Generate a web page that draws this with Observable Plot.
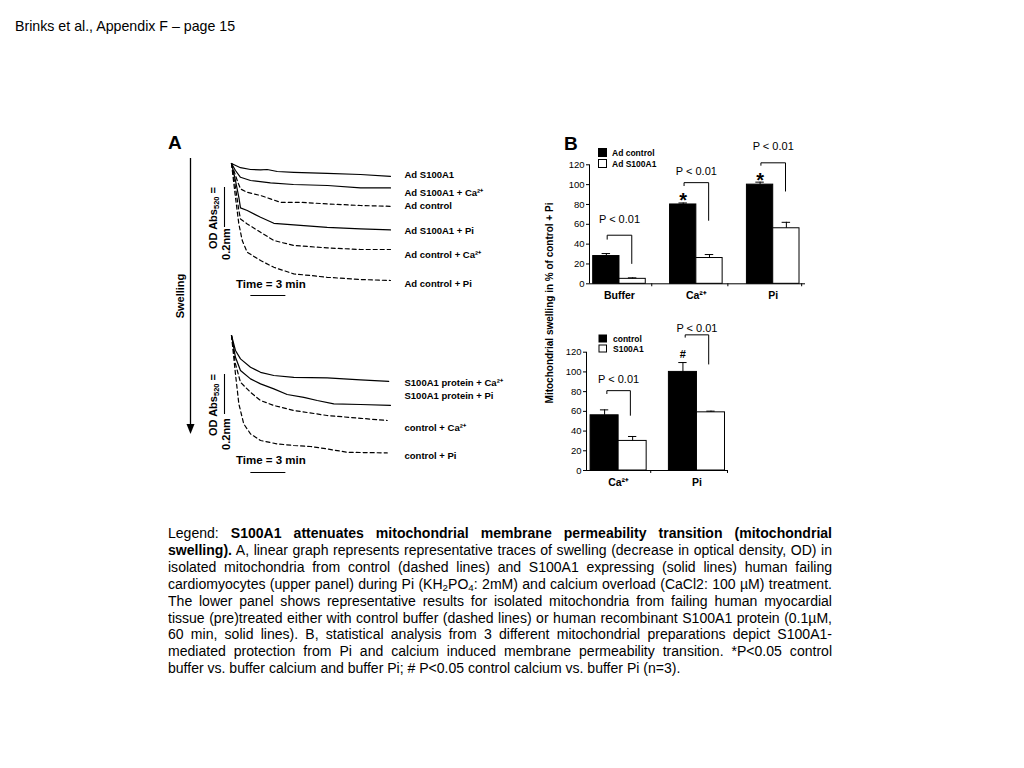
<!DOCTYPE html>
<html>
<head>
<meta charset="utf-8">
<script src="https://cdn.jsdelivr.net/npm/d3@7"></script>
<script src="https://cdn.jsdelivr.net/npm/@observablehq/plot@0.6"></script>
<style>
  html, body { margin: 0; padding: 0; background: #fff; }
  #page { position: relative; width: 1024px; height: 768px; overflow: hidden; font-family: "Liberation Sans", Arial, Helvetica, sans-serif; color: #000; }
  .box { position: absolute; }
  .box svg { overflow: visible; }
  #overlay { position: absolute; left: 0; top: 0; pointer-events: none; overflow: visible; }
  .cap { position: absolute; left: 168px; font-family: "Liberation Sans", Arial, sans-serif; font-size: 14px; line-height: 17px; text-align: justify; text-align-last: justify; white-space: nowrap; transform-origin: 0 0; }
  .cap.last { text-align-last: left; }
  .cap sub { font-size: 70%; line-height: 0; vertical-align: -0.25em; }
</style>
</head>
<body>
<div id="page"></div>
<script>
// ================= DATA =================
// Panel A, upper traces (time in min, change in OD520)
const upperLabels = ["Ad S100A1", "Ad S100A1 + Ca²⁺", "Ad control", "Ad S100A1 + Pi", "Ad control + Ca²⁺", "Ad control + Pi"];
const upperDashed = [false, false, true, false, true, true];
const tAdS100A1 = [0, 0.77, 1.63, 2.49, 3.06, 3.92, 5.34, 8.2, 11.06, 13.63];
const odAdS100A1 = [0, -0.021, -0.03, -0.032, -0.03, -0.04, -0.044, -0.049, -0.055, -0.064];
const tAdS100A1Ca = [0, 0.34, 0.77, 1.63, 3.34, 5.31, 8.23, 11.06, 13.63];
const odAdS100A1Ca = [0, -0.035, -0.069, -0.085, -0.097, -0.105, -0.11, -0.122, -0.122];
const tAdControl = [0, 0.49, 0.77, 1.35, 2.49, 3.34, 4.2, 5.91, 8.2, 11.06, 13.63];
const odAdControl = [0, -0.085, -0.127, -0.144, -0.16, -0.177, -0.194, -0.194, -0.202, -0.21, -0.214];
const tAdS100A1Pi = [0, 0.34, 0.63, 0.77, 1.35, 2.49, 3.63, 5.34, 8.2, 11.06, 13.63];
const odAdS100A1Pi = [0, -0.085, -0.169, -0.222, -0.235, -0.269, -0.299, -0.307, -0.319, -0.327, -0.332];
const tAdControlCa = [0, 0.34, 0.63, 0.77, 1.35, 2.49, 3.63, 5.34, 8.2, 11.06, 13.63];
const odAdControlCa = [0, -0.119, -0.235, -0.277, -0.302, -0.344, -0.385, -0.41, -0.422, -0.43, -0.43];
const tAdControlPi = [0, 0.34, 0.63, 0.92, 1.35, 2.49, 3.63, 5.34, 6.77, 8.2, 11.06, 13.63];
const odAdControlPi = [0, -0.169, -0.302, -0.385, -0.444, -0.485, -0.519, -0.552, -0.56, -0.569, -0.58, -0.585];

// Panel A, lower traces
const lowerLabels = ["S100A1 protein + Ca²⁺", "S100A1 protein + Pi", "control + Ca²⁺", "control + Pi"];
const lowerDashed = [false, false, true, true];
const tProtCa = [0, 0.34, 0.77, 1.63, 2.49, 3.63, 5.34, 8.2, 11.06, 13.48];
const odProtCa = [0, -0.075, -0.117, -0.159, -0.184, -0.2, -0.209, -0.212, -0.222, -0.229];
const tProtPi = [0, 0.34, 0.77, 1.63, 2.49, 3.63, 4.77, 6.2, 7.35, 8.77, 11.06, 13.63];
const odProtPi = [0, -0.109, -0.175, -0.217, -0.242, -0.267, -0.295, -0.309, -0.325, -0.342, -0.345, -0.349];
const tCtrlCa = [0, 0.34, 0.77, 1.63, 2.49, 3.63, 5.34, 8.2, 11.06, 13.35];
const odCtrlCa = [0, -0.142, -0.234, -0.284, -0.325, -0.35, -0.375, -0.4, -0.414, -0.425];
const tCtrlPi = [0, 0.34, 0.63, 1.05, 1.63, 2.49, 3.92, 5.34, 6.77, 8.2, 9.92, 13.35];
const odCtrlPi = [0, -0.192, -0.342, -0.442, -0.492, -0.525, -0.542, -0.55, -0.555, -0.567, -0.584, -0.587];

const timeBarMinutes = 3;     // "Time = 3 min"
const odBarLength = 0.2;      // "OD Abs520 = 0.2nm"

// Panel B, upper (adenovirus)
const groupsB1 = ["Buffer", "Ca²⁺", "Pi"];
const adControlB1 = [28, 80, 100];
const adControlErrB1 = [2.5, 1.5, 2.5];
const adS100A1B1 = [5, 26, 56];
const adS100A1ErrB1 = [1, 3.5, 6];
const bracketLowB1 = [45, 99, 119.5];
const bracketTopB1 = [49, 102, 122];
const bracketEndB1 = [20.5, 64, 93.5];
const pLabelYB1 = [64.8, 113.5, 138.4];
const starGroupsB1 = [1, 2];
const starYB1 = [84, 104];

// Panel B, lower (recombinant protein)
const groupsB2 = ["Ca²⁺", "Pi"];
const controlB2 = [56, 100];
const controlErrB2 = [5.5, 9.5];
const s100a1B2 = [30, 59];
const s100a1ErrB2 = [4.5, 1.2];
const bracketLowB2 = [78, 135.2];
const bracketTopB2 = [81, 137.6];
const bracketEndB2 = [56, 108];
const pLabelYB2 = [92, 143.7];
const hashGroupsB2 = [1];
const hashYB2 = [118];

const yTicksB = [0, 20, 40, 60, 80, 100, 120];
const pText = "P < 0.01";

const captionLines = [
  'Legend: <b>S100A1 attenuates mitochondrial membrane permeability transition (mitochondrial</b>',
  '<b>swelling).</b> A, linear graph represents representative traces of swelling (decrease in optical density, OD) in',
  'isolated mitochondria from control (dashed lines) and S100A1 expressing (solid lines) human failing',
  'cardiomyocytes (upper panel) during Pi (KH<sub>2</sub>PO<sub>4</sub>: 2mM) and calcium overload (CaCl2: 100 µM) treatment.',
  'The lower panel shows representative results for isolated mitochondria from failing human myocardial',
  'tissue (pre)treated either with control buffer (dashed lines) or human recombinant S100A1 protein (0.1µM,',
  '60 min, solid lines). B, statistical analysis from 3 different mitochondrial preparations depict S100A1-',
  'mediated protection from Pi and calcium induced membrane permeability transition. *P&lt;0.05 control',
  'buffer vs. buffer calcium and buffer Pi; # P&lt;0.05 control calcium vs. buffer Pi (n=3).'
];

// ================= BUILD =================
const FONT = '"Liberation Sans", Arial, Helvetica, sans-serif';
const page = document.getElementById("page");
function place(node, left, top) {
  const d = document.createElement("div");
  d.className = "box";
  d.style.left = left + "px";
  d.style.top = top + "px";
  d.appendChild(node);
  page.appendChild(d);
}
function traceRows(label, dashed, t, od) {
  return t.map((v, i) => ({series: label, dashed, t: v, od: od[i]}));
}

// ---- Panel A traces ----
function tracePlot(labels, dashedFlags, tArrays, odArrays, labelDy, opts) {
  const rows = labels.flatMap((l, k) => traceRows(l, dashedFlags[k], tArrays[k], odArrays[k]));
  const ends = labels.map((l, k) => ({series: l, od: odArrays[k][odArrays[k].length - 1]}));
  const tEnd = d3.max(tArrays.flat());
  const labelMarks = ends.map((e, k) => Plot.text([e], {
    x: tEnd, y: "od", text: "series", dx: 14, dy: labelDy[k],
    textAnchor: "start", fontWeight: "bold", fontSize: 9.5, fill: "#000"
  }));
  return Plot.plot({
    width: 380, height: 160,
    marginLeft: 71, marginRight: 150, marginTop: opts.marginTop, marginBottom: opts.marginBottom,
    x: {domain: [0, 13.63], axis: null},
    y: {domain: [-0.7, 0], axis: null},
    style: {fontFamily: FONT, color: "#000", background: "transparent", overflow: "visible"},
    marks: [
      Plot.line(rows.filter(d => !d.dashed), {x: "t", y: "od", z: "series", stroke: "#000", strokeWidth: 1.2}),
      Plot.line(rows.filter(d => d.dashed), {x: "t", y: "od", z: "series", stroke: "#000", strokeWidth: 1.2, strokeDasharray: "4,3"}),
      ...labelMarks,
      Plot.ruleY([opts.timeBarOD], {x1: opts.timeBarStart, x2: opts.timeBarStart + timeBarMinutes, stroke: "#000", strokeWidth: 1.1}),
      Plot.ruleX([opts.odBarT], {y1: opts.odBarTop, y2: opts.odBarTop - odBarLength, stroke: "#000", strokeWidth: 1.1})
    ]
  });
}

place(tracePlot(upperLabels, upperDashed,
  [tAdS100A1, tAdS100A1Ca, tAdControl, tAdS100A1Pi, tAdControlCa, tAdControlPi],
  [odAdS100A1, odAdS100A1Ca, odAdControl, odAdS100A1Pi, odAdControlCa, odAdControlPi],
  [-1, 5, 0, 1, 5, 3],
  {marginTop: 13, marginBottom: 7, timeBarOD: -0.66, timeBarStart: 1.66, odBarT: -0.6, odBarTop: -0.12}), 160, 150);

place(tracePlot(lowerLabels, lowerDashed,
  [tProtCa, tProtPi, tCtrlCa, tCtrlPi],
  [odProtCa, odProtPi, odCtrlCa, odCtrlPi],
  [2, -9, 7, 3],
  {marginTop: 15, marginBottom: 5, timeBarOD: -0.685, timeBarStart: 1.66, odBarT: -0.6, odBarTop: -0.195}), 160, 320);

// ---- Panel B bar charts ----
function barPlot(cfg) {
  const {groups, ctrl, ctrlErr, s100, s100Err, halfW, bOff, capHalf, xDomain, boundaries,
         bLow, bTop, bEnd, pY, markGroups, markY, markText, markSize, size} = cfg;
  const rows = groups.flatMap((g, i) => [
    {i, s: "control", v: ctrl[i], e: ctrlErr[i], x1: i - halfW, x2: i},
    {i, s: "S100A1", v: s100[i], e: s100Err[i], x1: i, x2: i + halfW}
  ]);
  const mid = d => (d.x1 + d.x2) / 2;
  const brackets = groups.flatMap((g, i) => [
    {i, x: i - bOff, y: bLow[i]},
    {i, x: i - bOff, y: bTop[i]},
    {i, x: i + bOff, y: bTop[i]},
    {i, x: i + bOff, y: bEnd[i]}
  ]);
  const pRows = groups.map((g, i) => ({x: i, y: pY[i]}));
  const marks = markGroups.map((gi, k) => ({x: gi - halfW / 2, y: markY[k]}));
  return Plot.plot({
    width: size.width, height: size.height,
    marginLeft: size.ml, marginRight: size.mr, marginTop: size.mt, marginBottom: size.mb,
    x: {domain: xDomain},
    y: {domain: [0, 120]},
    style: {fontFamily: FONT, color: "#000", background: "transparent", overflow: "visible"},
    marks: [
      Plot.rectY(rows.filter(d => d.s === "control"), {x1: "x1", x2: "x2", y1: 0, y2: "v", fill: "#000", stroke: "#000", strokeWidth: 1}),
      Plot.rectY(rows.filter(d => d.s !== "control"), {x1: "x1", x2: "x2", y1: 0, y2: "v", fill: "#fff", stroke: "#000", strokeWidth: 1}),
      Plot.ruleX(rows, {x: mid, y1: "v", y2: d => d.v + d.e, stroke: "#000", strokeWidth: 1}),
      Plot.ruleY(rows, {y: d => d.v + d.e, x1: d => mid(d) - capHalf, x2: d => mid(d) + capHalf, stroke: "#000", strokeWidth: 1}),
      Plot.line(brackets, {x: "x", y: "y", z: "i", stroke: "#000", strokeWidth: 1}),
      Plot.text(pRows, {x: "x", y: "y", text: () => pText, fontSize: 11, fill: "#000"}),
      Plot.text(marks, {x: "x", y: "y", text: () => markText, fontSize: markSize, fontWeight: "bold", fill: "#000"}),
      Plot.ruleY([0], {stroke: "#000", strokeWidth: 1}),
      Plot.ruleX([xDomain[0]], {y1: 0, y2: 120, stroke: "#000", strokeWidth: 1}),
      Plot.ruleX(boundaries, {y1: 0, y2: -3, stroke: "#000", strokeWidth: 1}),
      Plot.axisY({ticks: yTicksB, tickSize: 3, tickPadding: 2, fontSize: 9.5, label: null}),
      Plot.axisX({ticks: groups.map((g, i) => i), tickFormat: i => groups[i], tickSize: 0, tickPadding: 8, fontSize: 10.5, fontWeight: "bold", label: null})
    ]
  });
}

place(barPlot({
  groups: groupsB1, ctrl: adControlB1, ctrlErr: adControlErrB1, s100: adS100A1B1, s100Err: adS100A1ErrB1,
  halfW: 0.342, bOff: 0.16, capHalf: 0.055, xDomain: [-0.39, 2.42], boundaries: [0.42, 1.41, 2.37],
  bLow: bracketLowB1, bTop: bracketTopB1, bEnd: bracketEndB1, pY: pLabelYB1,
  markGroups: starGroupsB1, markY: starYB1, markText: "*", markSize: 20,
  size: {width: 290, height: 180, ml: 49, mr: 25, mt: 34.3, mb: 26.7}
}), 540, 130);

place(barPlot({
  groups: groupsB2, ctrl: controlB2, ctrlErr: controlErrB2, s100: s100a1B2, s100Err: s100a1ErrB2,
  halfW: 0.358, bOff: 0.15, capHalf: 0.053, xDomain: [-0.41, 1.39], boundaries: [0.41, 1.39],
  bLow: bracketLowB2, bTop: bracketTopB2, bEnd: bracketEndB2, pY: pLabelYB2,
  markGroups: hashGroupsB2, markY: hashYB2, markText: "#", markSize: 11,
  size: {width: 200, height: 180, ml: 46, mr: 13, mt: 36.7, mb: 25}
}), 540, 315);

// ---- Overlay: panel letters, titles, legends, scale annotations ----
const NS = "http://www.w3.org/2000/svg";
const ov = document.createElementNS(NS, "svg");
ov.setAttribute("id", "overlay");
ov.setAttribute("width", 1024);
ov.setAttribute("height", 768);
ov.setAttribute("font-family", FONT);
ov.innerHTML = `
  <text x="15" y="31" font-size="14.2">Brinks et al., Appendix F – page 15</text>
  <text x="168" y="149" font-size="19" font-weight="bold">A</text>
  <text x="564" y="150" font-size="19" font-weight="bold">B</text>
  <line x1="190.5" y1="158" x2="190.5" y2="426" stroke="#000" stroke-width="1.3"/>
  <polygon points="186.5,424 194.5,424 190.5,434" fill="#000"/>
  <text transform="translate(184,296) rotate(-90)" text-anchor="middle" font-size="11" font-weight="bold">Swelling</text>
  <text transform="translate(217,218) rotate(-90)" text-anchor="middle" font-size="11" font-weight="bold">OD Abs<tspan font-size="7.5" dy="2">520</tspan><tspan dy="-2"> =</tspan></text>
  <text transform="translate(230,244) rotate(-90)" text-anchor="middle" font-size="11" font-weight="bold">0.2nm</text>
  <text transform="translate(217,405) rotate(-90)" text-anchor="middle" font-size="11" font-weight="bold">OD Abs<tspan font-size="7.5" dy="2">520</tspan><tspan dy="-2"> =</tspan></text>
  <text transform="translate(230,434) rotate(-90)" text-anchor="middle" font-size="11" font-weight="bold">0.2nm</text>
  <text x="236" y="288" font-size="11.5" font-weight="bold">Time = 3 min</text>
  <text x="236" y="464" font-size="11.5" font-weight="bold">Time = 3 min</text>
  <text transform="translate(553,303) rotate(-90)" text-anchor="middle" font-size="10" font-weight="bold">Mitochondrial swelling in % of control + Pi</text>
  <rect x="598.5" y="148.5" width="8" height="8" fill="#000" stroke="#000"/>
  <text x="612" y="156" font-size="8.5" font-weight="bold">Ad control</text>
  <rect x="598.5" y="159.5" width="8" height="8" fill="#fff" stroke="#000"/>
  <text x="612" y="166.5" font-size="8.5" font-weight="bold">Ad S100A1</text>
  <rect x="599" y="335" width="7.5" height="7" fill="#000" stroke="#000"/>
  <text x="613" y="342" font-size="8.5" font-weight="bold">control</text>
  <rect x="599" y="345" width="7.5" height="7" fill="#fff" stroke="#000"/>
  <text x="613" y="352" font-size="8.5" font-weight="bold">S100A1</text>
`;
page.appendChild(ov);

// ---- Caption (Arial-Narrow look: Liberation Sans compressed horizontally) ----
function natural(html) {
  const s = document.createElement("span");
  s.style.cssText = 'position:absolute;visibility:hidden;white-space:nowrap;font-size:14px;font-family:"Liberation Sans",Arial,sans-serif;';
  s.innerHTML = html;
  page.appendChild(s);
  const w = s.getBoundingClientRect().width;
  page.removeChild(s);
  return w;
}
let sx = 517 / natural(captionLines[captionLines.length - 1]);
const maxW = d3.max(captionLines.map(natural));
if (maxW * sx > 660) sx = 660 / maxW;
captionLines.forEach((html, i) => {
  const d = document.createElement("div");
  d.className = "cap" + (i === captionLines.length - 1 ? " last" : "");
  d.style.top = (525 + i * 16.9) + "px";
  d.style.width = (664 / sx) + "px";
  d.style.transform = `scaleX(${sx})`;
  d.innerHTML = html;
  page.appendChild(d);
});
</script>
</body>
</html>
